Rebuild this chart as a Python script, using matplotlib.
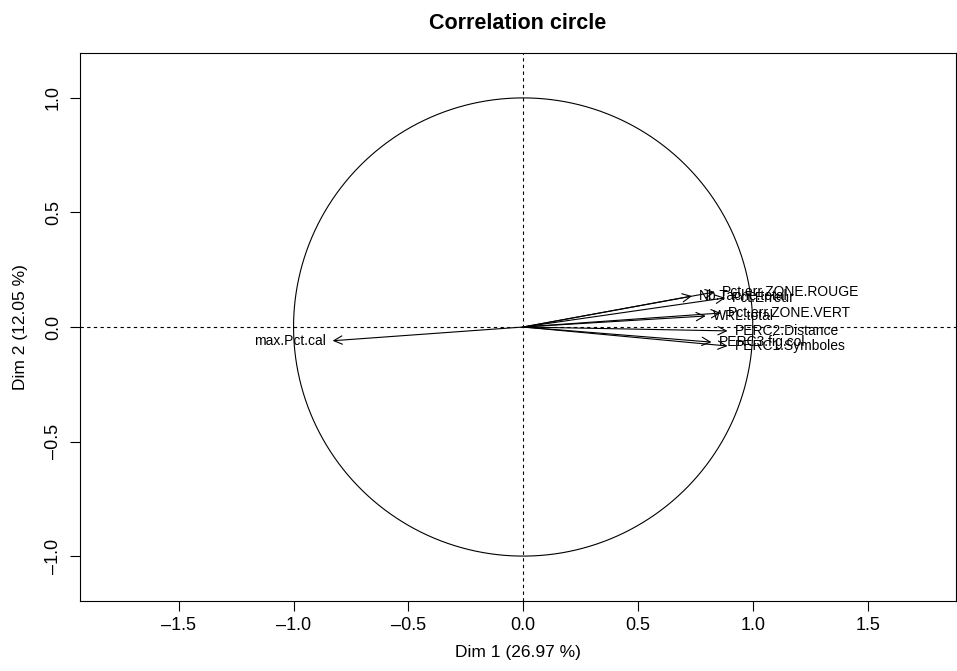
import matplotlib
matplotlib.use("Agg")
import matplotlib.pyplot as plt
import numpy as np
from matplotlib.patches import FancyArrowPatch

plt.rcParams['font.family'] = ['Liberation Sans', 'DejaVu Sans']

# variable coordinates on Dim 1 / Dim 2
var_names = ["Nb.Tache.total", "Pct.err.ZONE.ROUGE", "Pct.Erreur", "WRL.total",
             "Pct.err.ZONE.VERT", "PERC2.Distance", "PERC3.fig.col",
             "PERC1.Symboles", "max.Pct.cal"]
dim1 = [0.735, 0.835, 0.88, 0.795, 0.86, 0.89, 0.82, 0.89, -0.83]
dim2 = [0.135, 0.153, 0.127, 0.048, 0.061, -0.017, -0.066, -0.083, -0.06]

xticks = [-1.5, -1.0, -0.5, 0.0, 0.5, 1.0, 1.5]
yticks = [-1.0, -0.5, 0.0, 0.5, 1.0]

fig = plt.figure(figsize=(9.57, 6.71), dpi=100)
ax = fig.add_axes([80 / 957, 70 / 671, 876 / 957, 548 / 671])

# unit circle
t = np.linspace(0, 2 * np.pi, 400)
ax.plot(np.cos(t), np.sin(t), color='black', lw=0.8)

ax.axhline(0, color='black', lw=0.8, ls=(0, (3, 3)))
ax.axvline(0, color='black', lw=0.8, ls=(0, (3, 3)))

for name, x, y in zip(var_names, dim1, dim2):
    arr = FancyArrowPatch((0, 0), (x, y), arrowstyle='->,head_length=0.8,head_width=0.4',
                          mutation_scale=7.5, color='black', lw=0.8,
                          shrinkA=0, shrinkB=0)
    ax.add_patch(arr)
    if x >= 0:
        ax.annotate(name, (x, y), xytext=(5, 0), textcoords='offset points',
                    ha='left', va='center', fontsize=10)
    else:
        ax.annotate(name, (x, y), xytext=(-5, 0), textcoords='offset points',
                    ha='right', va='center', fontsize=10)

ax.set_xlim(-1.93, 1.885)
ax.set_ylim(-1.196, 1.196)
ax.set_xticks(xticks)
ax.set_xticklabels([f"{v:.1f}".replace('-', '\u2013') for v in xticks])
ax.set_yticks(yticks)
ax.set_yticklabels([f"{v:.1f}".replace('-', '\u2013') for v in yticks],
                   rotation=90, va='center')
ax.tick_params(direction='out', length=7, width=0.8, labelsize=13)
ax.tick_params(axis='x', pad=4.8)
ax.tick_params(axis='y', pad=6)
for s in ax.spines.values():
    s.set_linewidth(0.8)

ax.set_xlabel("Dim 1 (26.97 %)", fontsize=12.5, labelpad=8)
ax.set_ylabel("Dim 2 (12.05 %)", fontsize=12.5, labelpad=12)
ax.set_title("Correlation circle", fontsize=15.5, fontweight='bold', pad=17)

fig.savefig("out.png", dpi=100)
